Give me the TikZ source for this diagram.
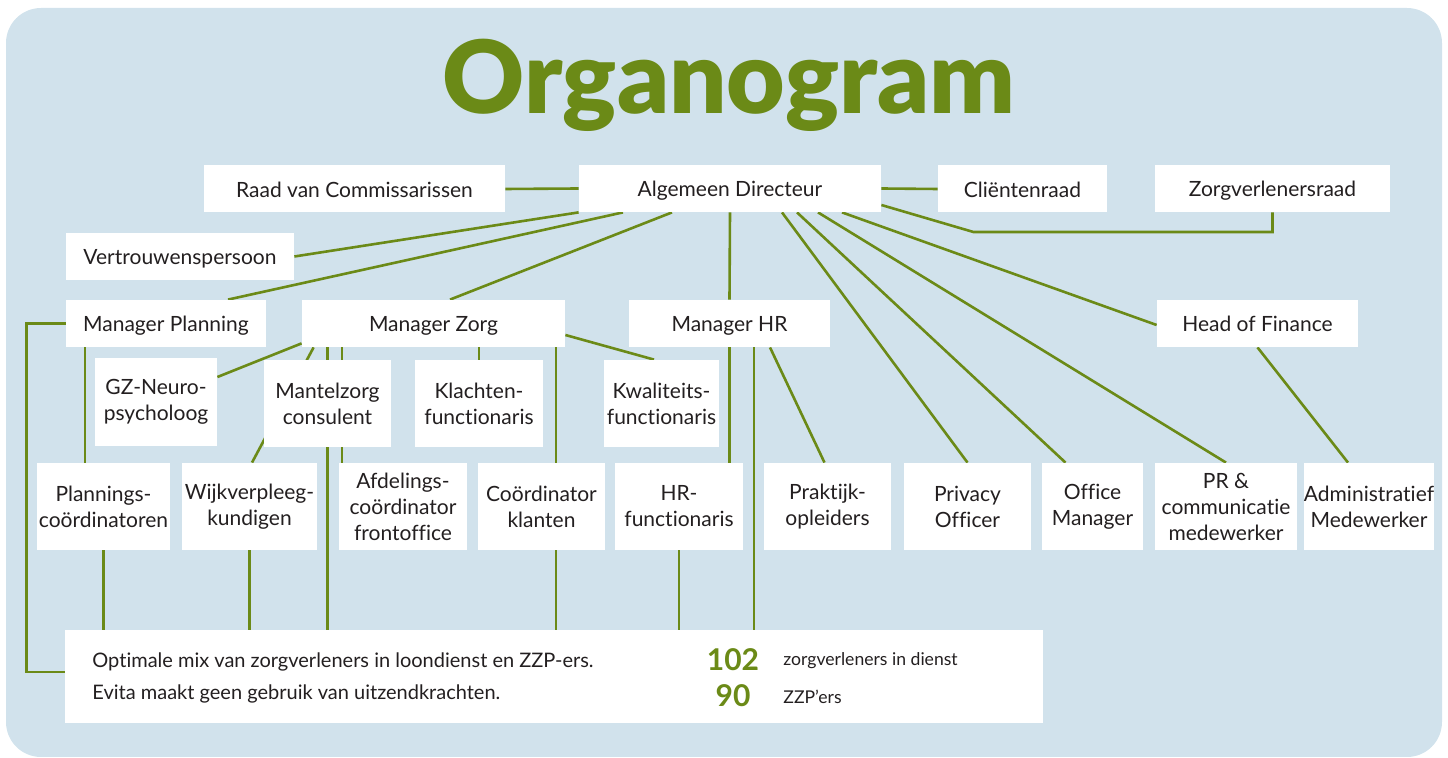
\documentclass[tikz,border=0pt]{standalone}
\usepackage{fontspec}
\setmainfont{Lato}[Ligatures=NoCommon]
\newfontfamily\titlefont{Lato Black}[Ligatures=NoCommon]
\definecolor{orgblue}{HTML}{D1E2EC}
\definecolor{orggreen}{HTML}{6B8A17}
\definecolor{orgtext}{HTML}{231F20}
\pgfdeclarelayer{back}
\pgfdeclarelayer{links}
\pgfsetlayers{back,links,main}
\tikzset{
  post/.style 2 args={fill=white, text=orgtext, inner sep=0pt, align=center,
    minimum width=#1*0.5pt, minimum height=#2*0.5pt,
    font=\fontsize{10.5}{13}\selectfont},
  oneline/.style={text height=10pt, text depth=1.5pt},
  link/.style={draw=orggreen, line width=1.3pt},
  infotext/.style={anchor=west, inner sep=0pt, text=orgtext},
  count/.style={inner sep=0pt, text=orggreen, font=\bfseries\fontsize{15}{15}\selectfont},
}
\begin{document}
\begin{tikzpicture}[x=0.5pt,y=-0.5pt]
\useasboundingbox (0,0) rectangle (1448,758);
\begin{pgfonlayer}{back}
\fill[orgblue, rounded corners=17.5pt] (6,8) rectangle (1442,757);
\end{pgfonlayer}

\node[anchor=base, text=orggreen, font=\titlefont\fontsize{50.5}{54}\selectfont] (title) at (729,114) {Organogram};

% top row
\node[post={301}{47}, oneline] (raad) at (354.5,189) {Raad van Commissarissen};
\node[post={302}{47}, oneline] (ad) at (730,188.5) {Algemeen Directeur};
\node[post={169}{47}, oneline] (clr) at (1022.5,189) {Cliëntenraad};
\node[post={235}{47}, oneline] (zvr) at (1272.5,188.5) {Zorgverlenersraad};
\node[post={228}{47}, oneline] (vp) at (180,256.5) {Vertrouwenspersoon};

% managers
\node[post={200}{47}, oneline] (mp) at (166,323.5) {Manager Planning};
\node[post={263}{47}, oneline] (mz) at (433.5,323.5) {Manager Zorg};
\node[post={201}{47}, oneline] (mhr) at (729.5,323.5) {Manager HR};
\node[post={201}{47}, oneline] (hof) at (1257.5,323.5) {Head of Finance};

% middle row
\node[post={122}{88}] (gz) at (156,402) {GZ-Neuro-\\psycholoog};
\node[post={127}{87}] (mc) at (327.5,403.5) {Mantelzorg\\consulent};
\node[post={128}{87}] (kl) at (479,403.5) {Klachten-\\functionaris};
\node[post={115}{87}] (kw) at (661.5,403.5) {Kwaliteits-\\functionaris};

% bottom row
\node[post={133}{87}] (plc) at (103.5,506.5) {Plannings-\\coördinatoren};
\node[post={135}{87}] (wijk) at (249.5,506.5) {Wijkverpleeg-\\kundigen};
\node[post={128}{87}] (afd) at (403,506.5) {Afdelings-\\coördinator\\frontoffice};
\node[post={127}{87}] (ck) at (541.5,506.5) {Coördinator\\klanten};
\node[post={128}{87}] (hrf) at (679,506.5) {HR-\\functionaris};
\node[post={127}{87}] (prak) at (827.5,506.5) {Praktijk-\\opleiders};
\node[post={127}{87}] (priv) at (967.5,506.5) {Privacy\\Officer};
\node[post={101}{87}] (om) at (1092.5,506.5) {Office\\Manager};
\node[post={142}{87}] (pr) at (1226,506.5) {PR \&\\communicatie\\medewerker};
\node[post={126}{87}] (adm) at (1369,506.5) {Administratief\\Medewerker};

% info box
\node[post={978}{93}] (info) at (554,676.5) {};
\node[infotext, font=\fontsize{10}{12}\selectfont] (mix) at (92,662) {Optimale mix van zorgverleners in loondienst en ZZP-ers.};
\node[infotext, font=\fontsize{10}{12}\selectfont] (evita) at (92,694) {Evita maakt geen gebruik van uitzendkrachten.};
\node[count] (n102) at (733,660) {102};
\node[count] (n90) at (733,696) {90};
\node[infotext, font=\fontsize{8.8}{10}\selectfont] (lbl102) at (783,661) {zorgverleners in dienst};
\node[infotext, font=\fontsize{8.8}{10}\selectfont] (lbl90) at (783,697) {ZZP’ers};

\begin{pgfonlayer}{links}
% director
\draw[link] (raad.east) -- (ad.west);
\draw[link] (ad.east) -- (clr.west);
\draw[link] ([yshift=-8.25pt]ad.east) -- ++(92,27) -| (zvr.south);
\draw[link] (vp.east) -- (ad.south west);
\draw[link] ([xshift=31pt]mp.north) -- ([xshift=-53.5pt]ad.south);
\draw[link] ([xshift=8.25pt]mz.north) -- ([xshift=-29pt]ad.south);
\draw[link] (ad.south) -- (mhr.north);
\draw[link] ([xshift=26pt]ad.south) -- (priv.north);
\draw[link] ([xshift=33.5pt]ad.south) -- ([xshift=-13.5pt]om.north);
\draw[link] ([xshift=44pt]ad.south) -- (pr.north);
\draw[link] ([xshift=56pt]ad.south) -- ([yshift=-0.75pt]hof.west);
% planning
\draw[link] (mp.west) -- ++(-39,0) |- ([yshift=2.25pt]info.west);
\draw[link] ([xshift=-40.5pt]mp.south) -- ([xshift=-40.5pt]mp.south |- plc.north);
\draw[link] (plc.south) -- (plc.south |- info.north);
% zorg
\draw[link] ([yshift=2pt]mz.south west) -- ([yshift=12.5pt]gz.east);
\draw[link] ([xshift=6pt]mz.south west) -- ([xshift=1.25pt]wijk.north);
\draw[link] (mc.north |- mz.south) -- (mc.north);
\draw[link] (mc.south) -- (mc.south |- info.north);
\draw[link] ([xshift=-30.5pt]afd.north) -- ([xshift=-30.5pt]afd.north |- mz.south);
\draw[link] (kl.north |- mz.south) -- (kl.north);
\draw[link] ([xshift=7.25pt]ck.north) -- ([xshift=7.25pt]ck.north |- mz.south);
\draw[link] ([xshift=7.25pt]ck.south) -- ([xshift=7.25pt]ck.south |- info.north);
\draw[link] ([yshift=-5.75pt]mz.east) -- ([xshift=-3.75pt]kw.north);
\draw[link] (wijk.south) -- (wijk.south |- info.north);
% hr
\draw[link] (mhr.south) -- (mhr.south |- hrf.north);
\draw[link] (hrf.south) -- (hrf.south |- info.north);
\draw[link] ([xshift=12.25pt]mhr.south) -- ([xshift=12.25pt]mhr.south |- info.north);
\draw[link] ([xshift=20.25pt]mhr.south) -- ([xshift=-1.5pt]prak.north);
% finance
\draw[link] (hof.south) -- ([xshift=-10.5pt]adm.north);
\end{pgfonlayer}
\end{tikzpicture}
\end{document}
